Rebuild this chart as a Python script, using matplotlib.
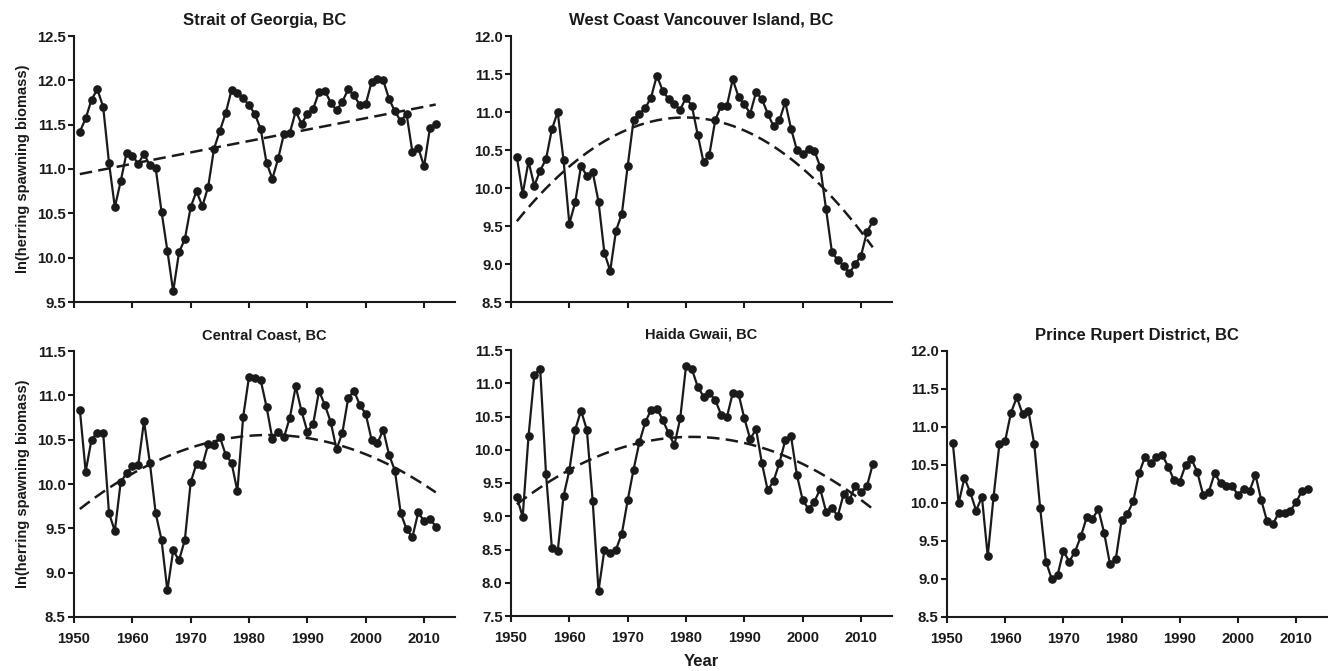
import numpy as np
import matplotlib.pyplot as plt

plt.rcParams['font.family'] = ['Liberation Sans', 'DejaVu Sans']
plt.rcParams['font.weight'] = 'bold'

years = np.arange(1951, 2013)

# ln(herring spawning biomass), 1951-2012
georgia = [11.42, 11.57, 11.78, 11.90, 11.70, 11.07, 10.57, 10.86, 11.18, 11.15,
           11.06, 11.17, 11.04, 11.01, 10.52, 10.08, 9.62, 10.06, 10.21, 10.57,
           10.75, 10.58, 10.80, 11.23, 11.43, 11.63, 11.89, 11.86, 11.80, 11.72,
           11.62, 11.45, 11.07, 10.89, 11.12, 11.40, 11.41, 11.65, 11.51, 11.62,
           11.68, 11.87, 11.88, 11.75, 11.66, 11.76, 11.90, 11.83, 11.72, 11.73,
           11.98, 12.01, 12.00, 11.79, 11.65, 11.54, 11.62, 11.19, 11.24, 11.03,
           11.46, 11.51]
wcvi = [10.41, 9.92, 10.35, 10.03, 10.23, 10.38, 10.77, 11.00, 10.37, 9.53,
        9.81, 10.29, 10.16, 10.21, 9.82, 9.15, 8.91, 9.44, 9.66, 10.29,
        10.89, 10.98, 11.05, 11.19, 11.48, 11.28, 11.17, 11.10, 11.03, 11.19,
        11.08, 10.70, 10.34, 10.44, 10.89, 11.08, 11.08, 11.43, 11.20, 11.10,
        10.98, 11.26, 11.17, 10.98, 10.81, 10.89, 11.13, 10.78, 10.50, 10.45,
        10.51, 10.49, 10.28, 9.72, 9.16, 9.05, 8.98, 8.88, 9.00, 9.11,
        9.42, 9.56]
central = [10.84, 10.14, 10.50, 10.58, 10.58, 9.67, 9.47, 10.02, 10.12, 10.20,
           10.21, 10.71, 10.24, 9.67, 9.37, 8.80, 9.25, 9.14, 9.37, 10.02,
           10.23, 10.21, 10.45, 10.44, 10.53, 10.33, 10.24, 9.92, 10.76, 11.21,
           11.19, 11.17, 10.87, 10.51, 10.59, 10.53, 10.75, 11.10, 10.82, 10.59,
           10.68, 11.05, 10.89, 10.70, 10.39, 10.58, 10.97, 11.05, 10.89, 10.79,
           10.50, 10.46, 10.61, 10.33, 10.15, 9.67, 9.49, 9.40, 9.68, 9.58,
           9.61, 9.52]
haida = [9.29, 8.99, 10.20, 11.12, 11.22, 9.64, 8.53, 8.47, 9.30, 9.69,
         10.30, 10.59, 10.30, 9.23, 7.88, 8.49, 8.45, 8.50, 8.74, 9.24,
         9.70, 10.11, 10.41, 10.60, 10.62, 10.45, 10.25, 10.07, 10.47, 11.26,
         11.21, 10.95, 10.80, 10.85, 10.75, 10.53, 10.49, 10.85, 10.84, 10.47,
         10.16, 10.31, 9.80, 9.39, 9.53, 9.80, 10.14, 10.20, 9.62, 9.24,
         9.11, 9.22, 9.41, 9.07, 9.13, 9.00, 9.33, 9.24, 9.46, 9.36,
         9.45, 9.78]
rupert = [10.79, 10.00, 10.33, 10.14, 9.90, 10.08, 9.30, 10.08, 10.77, 10.82,
          11.19, 11.39, 11.17, 11.21, 10.77, 9.94, 9.23, 9.00, 9.05, 9.37,
          9.23, 9.36, 9.56, 9.81, 9.79, 9.92, 9.61, 9.20, 9.26, 9.77,
          9.86, 10.02, 10.39, 10.60, 10.52, 10.60, 10.63, 10.48, 10.30, 10.28,
          10.50, 10.58, 10.41, 10.11, 10.15, 10.39, 10.26, 10.22, 10.23, 10.10,
          10.19, 10.16, 10.37, 10.04, 9.76, 9.72, 9.87, 9.87, 9.90, 10.01,
          10.16, 10.19]

titles = ["Strait of Georgia, BC", "West Coast Vancouver Island, BC",
          "Central Coast, BC", "Haida Gwaii, BC", "Prince Rupert District, BC"]
series = [georgia, wcvi, central, haida, rupert]
trend_deg = [1, 2, 2, 2, None]
ylims = [(9.5, 12.5), (8.5, 12.0), (8.5, 11.5), (7.5, 11.5), (8.5, 12.0)]

W, H = 1328, 671
# axes boxes in pixels: left, right, top, bottom
boxes = [(74, 455, 36, 302), (511, 892, 36, 302),
         (74, 455, 351, 617), (511, 892, 350, 616), (947, 1327, 351, 617)]
title_size = [12, 12, 10.5, 10.5, 12]

fig = plt.figure(figsize=(W / 100, H / 100), dpi=100)

for i in range(5):
    l, r, t, b = boxes[i]
    ax = fig.add_axes([l / W, 1 - b / H, (r - l) / W, (b - t) / H])
    y = np.array(series[i])
    ax.plot(years, y, '-o', color='#1a1a1a', lw=1.6, ms=5.2, zorder=3)
    if trend_deg[i]:
        c = np.polyfit(years, y, trend_deg[i])
        ax.plot(years, np.polyval(c, years), '--', color='#1a1a1a', lw=1.8,
                dashes=(5, 2.5), zorder=2)
    ax.set_xlim(1950, 2015.3)
    ax.set_ylim(*ylims[i])
    ax.set_yticks(np.arange(ylims[i][0], ylims[i][1] + 0.01, 0.5))
    ax.yaxis.set_major_formatter(plt.FormatStrFormatter('%.1f'))
    ax.set_xticks([1950, 1960, 1970, 1980, 1990, 2000, 2010])
    for s in ['top', 'right']:
        ax.spines[s].set_visible(False)
    for s in ['left', 'bottom']:
        ax.spines[s].set_linewidth(1.5)
        ax.spines[s].set_color('#1a1a1a')
    ax.tick_params(direction='out', length=4, width=1.5, labelsize=10.7,
                   colors='#1a1a1a', pad=2)
    ax.tick_params(axis='x', pad=7)
    if i < 2:
        ax.tick_params(labelbottom=False)
    ax.set_title(titles[i], fontsize=title_size[i], fontweight='bold',
                 color='#1a1a1a', pad=8)
    if i in (0, 2):
        ax.set_ylabel("ln(herring spawning biomass)", fontsize=10.5,
                      fontweight='bold', color='#1a1a1a', labelpad=5)

fig.text(701 / W, 1 - 662 / H, "Year", ha='center', va='center',
         fontsize=12, fontweight='bold', color='#1a1a1a')

fig.savefig("out.png", dpi=100)
